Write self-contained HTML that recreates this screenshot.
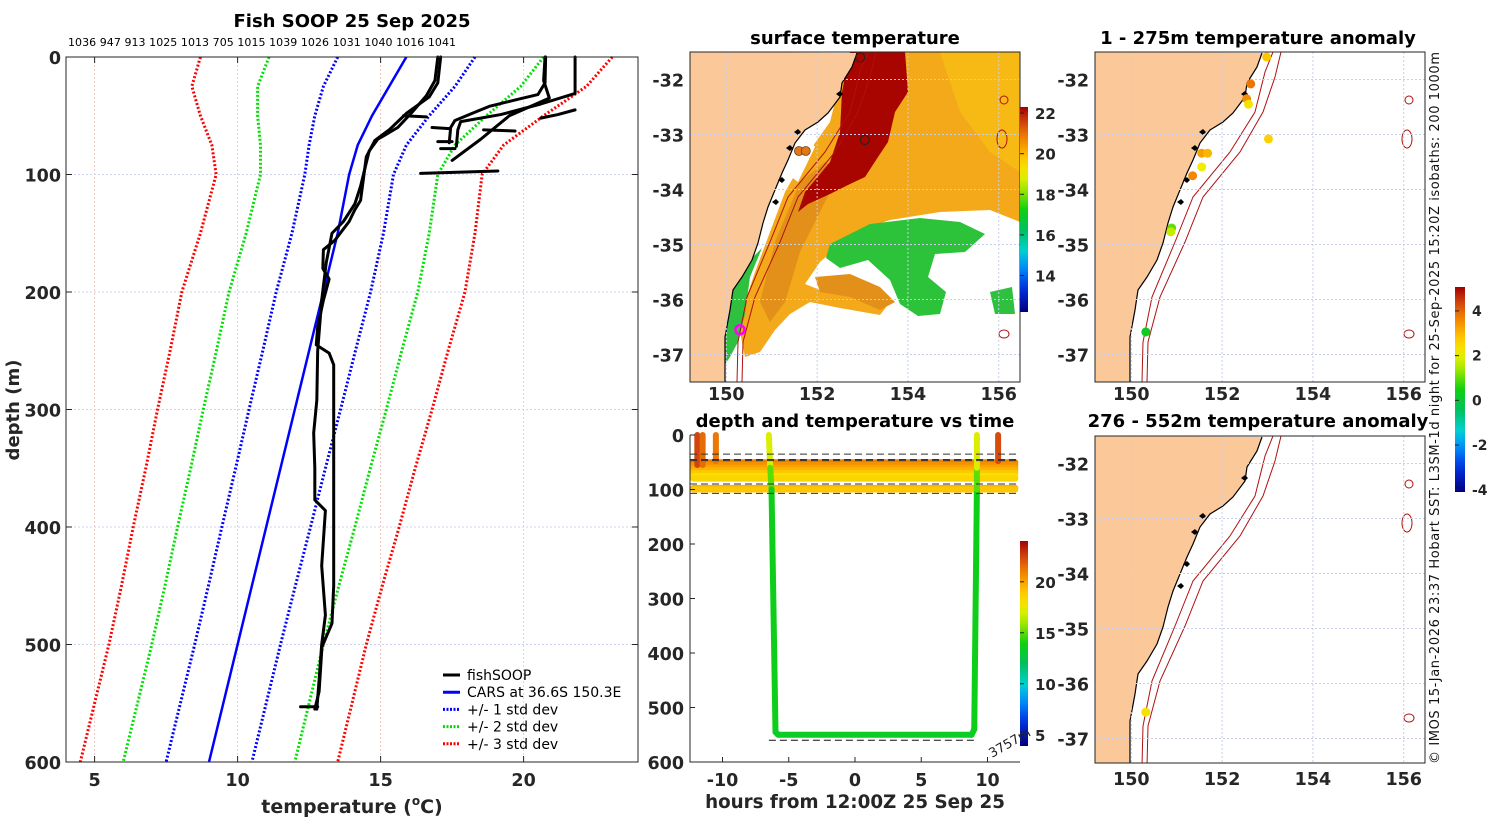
<!DOCTYPE html>
<html><head><meta charset="utf-8"><title>Fish SOOP 25 Sep 2025</title>
<style>
html,body{margin:0;padding:0;background:#fff;}
svg{display:block;font-family:"DejaVu Sans","Liberation Sans",sans-serif;}
.tk{font-size:17.5px;font-weight:bold;fill:#262626;}
.ttl{font-size:18px;font-weight:bold;fill:#000;}
</style></head>
<body>
<svg id="fig" xmlns="http://www.w3.org/2000/svg" width="1500" height="820" viewBox="0 0 1500 820">
<rect width="1500" height="820" fill="#fff"/>
<text class="ttl" x="352" y="27" text-anchor="middle">Fish SOOP 25 Sep 2025</text>
<text x="68" y="46" font-size="11" fill="#000" textLength="388">1036 947 913 1025 1013 705 1015 1039 1026 1031 1040 1016 1041</text>
<text class="tk" x="352" y="813" text-anchor="middle" style="font-size:19px">temperature (<tspan font-size="12" dy="-8">o</tspan><tspan dy="8">C)</tspan></text>
<text class="tk" transform="translate(19,410) rotate(-90)" text-anchor="middle" style="font-size:18px">depth (m)</text>
<text class="ttl" x="855" y="44" text-anchor="middle">surface temperature</text>
<text class="ttl" x="1258" y="44" text-anchor="middle">1 - 275m temperature anomaly</text>
<text class="ttl" x="855" y="427" text-anchor="middle">depth and temperature vs time</text>
<text class="ttl" x="1258" y="427" text-anchor="middle">276 - 552m temperature anomaly</text>
<text class="tk" x="855" y="808" text-anchor="middle" style="font-size:18.3px">hours from 12:00Z 25 Sep 25</text>
<text transform="translate(1439,408) rotate(-90)" text-anchor="middle" font-size="13" fill="#111" textLength="712">© IMOS 15-Jan-2026 23:37 Hobart SST: L3SM-1d night for 25-Sep-2025 15:20Z isobaths: 200  1000m</text>
<g id="g"></g>
</svg>
<script>
// ---------- data ----------
const carsDepth=[0,25,50,75,100,150,200,250,300,350,400,450,500,550,600];
const carsMean=[15.9,15.3,14.7,14.2,13.9,13.5,13.0,12.5,12.0,11.5,11.0,10.5,10.0,9.5,9.0];
const carsStd=[2.4,2.3,2.0,1.7,1.55,1.6,1.65,1.62,1.6,1.57,1.55,1.52,1.5,1.5,1.5];
const fishT=[
[17.1,17.0,16.7,15.9,15.3,14.8,14.5,14.3,14.1,13.9,13.4,13.0,12.98,13.2,13.0,12.8,12.75,13.2,13.36,13.36,13.36,13.3,12.95,12.85,12.7],
[17.0,16.9,16.6,16.1,15.6,14.9,14.6,14.3,14.1,13.7,13.3,13.1,12.94,12.8,12.77,12.66,12.7,12.7,13.07,12.94,13.07,12.94,12.85,12.77],
[20.77,20.75,20.5,19.8,18.8,18.2,17.6,17.45,17.4],
[21.8,21.8,20.6,19.2,17.8,17.7,17.65],
[20.75,20.7,20.9,19.5,18.5,17.5],
[21.8,21.2,20.6],[15.8,16.6],[16.8,17.4],[18.6,19.7],[17.0,17.5],[17.1,17.6],[16.4,19.1],[12.2,12.8]];
const fishD=[
[0,22,34,48,62,71,85,122,130,140,156,164,180,189,207,230,245,252,262,350,450,482,502,540,555],
[0,20,33,47,60,70,80,110,125,140,150,175,207,250,292,320,350,377,386,433,475,500,530,555],
[0,22,32,36,42,48,54,60,73],
[0,31,40,49,55,62,76],
[0,20,35,50,70,88],
[45,49,52],[50,51],[60,61],[62,63],[72,72],[78,78],[99,97],[553,553]];
const tempTicks=[5,10,15,20];
const depthTicks=[0,100,200,300,400,500,600];
// depth-time panel
const trackHours=[[-6.5,-6.4,-6.3,-6.0,-5.8,8.8,9.0,9.2,9.2,9.2]];
const trackDepth=[[0,60,100,545,550,550,540,100,60,0]];
const trackTemp=[[18,16,14,13.4,13.4,13.4,13.4,14,16,18]];
const bandDepth=[50,55,60,65,70,75,80,97,100];
const bandTemp=[21,20.5,20,19.5,19,18,18.5,19.5,19];
const castHours=[-11.9,-11.5,-10.5,10.8];
const castDepthMax=[55,55,48,48];
const castTemp=[22.5,21.5,21.2,22.3];
const dashDepth=[35,45,47,90,107];
const hourTicks=[-10,-5,0,5,10];
// anomaly markers
const anomLon=[152.98,152.63,152.54,152.58,153.02,151.55,151.68,151.55,151.35,150.89,150.87,150.32];
const anomLat=[-31.59,-32.08,-32.35,-32.45,-33.08,-33.34,-33.34,-33.59,-33.75,-34.70,-34.77,-36.59];
const anomVal=[2.8,3.8,3.5,2.3,2.6,3.3,3.0,2.1,3.6,1.0,1.7,0.3];
const anom2Lon=[150.32];
const anom2Lat=[-36.52];
const anom2Val=[2.3];
const lonTicks=[150,152,154,156];
const latTicks=[-32,-33,-34,-35,-36,-37];

// ---------- helpers ----------
const NS='http://www.w3.org/2000/svg';
const G=document.getElementById('g');
function mk(tag,attrs,name,parent){
  const e=document.createElementNS(NS,tag);
  for(const k in attrs) e.setAttribute(k,attrs[k]);
  
  
  (parent||G).appendChild(e);
  return e;
}
function txt(x,y,s,name,cls,anchor,extra){
  const t=mk('text',Object.assign({x:x,y:y,'text-anchor':anchor||'middle'},cls?{class:cls}:{},extra||{}),name);
  t.textContent=s;return t;
}
const stops=[[0,[0,0,128]],[0.12,[0,48,224]],[0.22,[0,144,255]],[0.3,[0,208,208]],[0.4,[0,192,96]],[0.5,[16,208,16]],[0.6,[160,232,0]],[0.67,[240,240,0]],[0.75,[255,200,0]],[0.85,[240,128,0]],[0.93,[208,64,16]],[1,[160,0,0]]];
function cmap(f){
  f=Math.max(0,Math.min(1,f));
  for(let i=1;i<stops.length;i++){if(f<=stops[i][0]){const a=stops[i-1],b=stops[i];const u=(f-a[0])/(b[0]-a[0]);
    return 'rgb('+a[1].map((v,j)=>Math.round(v+(b[1][j]-v)*u)).join(',')+')';}}
  return 'rgb(160,0,0)';
}
function gradient(id){
  let defs=document.querySelector('defs');
  if(!defs){defs=mk('defs',{},'defs');}
  const lg=mk('linearGradient',{id:id,x1:0,y1:1,x2:0,y2:0},'colormap-gradient',defs);
  for(let i=0;i<=20;i++){mk('stop',{offset:i/20,'stop-color':cmap(i/20)},'gradient-stop',lg);}
}
gradient('jet');

// ---------- profile chart ----------
const PX0=66,PX1=638,PY0=57,PY1=762,TMIN=4,TMAX=24;
const px=t=>PX0+(t-TMIN)*(PX1-PX0)/(TMAX-TMIN);
const py=d=>PY0+d*(PY1-PY0)/600;
tempTicks.forEach(t=>{
  mk('line',{x1:px(t),y1:PY0,x2:px(t),y2:PY1,stroke:t%10===0?'#cdd4ee':'#f0c8c0','stroke-width':1,'stroke-dasharray':'2,2'},'x-gridline');
  mk('line',{x1:px(t),y1:PY1,x2:px(t),y2:PY1-6,stroke:'#262626'},'x-tick');
  mk('line',{x1:px(t),y1:PY0,x2:px(t),y2:PY0+6,stroke:'#262626'},'x-tick-top');
  txt(px(t),786,t,'x-tick-label','tk');
});
depthTicks.forEach(d=>{
  if(d>0&&d<600) mk('line',{x1:PX0,y1:py(d),x2:PX1,y2:py(d),stroke:'#cdd4ee','stroke-width':1,'stroke-dasharray':'2,2'},'y-gridline');
  mk('line',{x1:PX0,y1:py(d),x2:PX0+6,y2:py(d),stroke:'#262626'},'y-tick');
  mk('line',{x1:PX1,y1:py(d),x2:PX1-6,y2:py(d),stroke:'#262626'},'y-tick-right');
  txt(61,py(d)+7,d,'y-tick-label','tk','end');
});
const sdCol=['#0000ff','#00e000','#ff0000'];
[1,2,3].forEach(k=>{
  [-1,1].forEach(s=>{
    const pts=carsDepth.map((d,i)=>px(carsMean[i]+s*k*carsStd[i])+','+py(d)).join(' ');
    mk('polyline',{points:pts,fill:'none',stroke:sdCol[k-1],'stroke-width':3,'stroke-dasharray':'2,2'},'std-dev-'+k+(s<0?'-lower':'-upper'));
  });
});
mk('polyline',{points:carsDepth.map((d,i)=>px(carsMean[i])+','+py(d)).join(' '),fill:'none',stroke:'#0000ff','stroke-width':2.5},'cars-mean-line');
fishT.forEach((ts,j)=>{
  mk('polyline',{points:ts.map((t,i)=>px(t)+','+py(fishD[j][i])).join(' '),fill:'none',stroke:'#000','stroke-width':3,'stroke-linejoin':'round','stroke-linecap':'round'},'fishsoop-profile');
});
mk('rect',{x:PX0,y:PY0,width:PX1-PX0,height:PY1-PY0,fill:'none',stroke:'#262626','stroke-width':1},'profile-axes-frame');
const legItems=[['fishSOOP','#000',''],['CARS at 36.6S 150.3E','#0000ff',''],['+/- 1 std dev','#0000ff','2,1.5'],['+/- 2 std dev','#00e000','2,1.5'],['+/- 3 std dev','#ff0000','2,1.5']];
legItems.forEach((it,i)=>{
  const y=675+i*17.2;
  mk('line',{x1:443,y1:y,x2:460,y2:y,stroke:it[1],'stroke-width':3,'stroke-dasharray':it[2]||'none'},'legend-swatch');
  txt(467,y+5,it[0],'legend-entry',null,'start',{'font-size':14,fill:'#000'});
});

// ---------- maps ----------
const coast=[[167,1],[162,15],[152,31],[150,45],[138,61],[128,70],[115,78],[105,91],[98,108],[92,121],[85,138],[78,155],[73,171],[68,191],[62,208],[52,225],[43,238],[40,258],[35,285],[35,301],[35,330]];
const iso1=[[178,0],[170,20],[160,60],[135,100],[98,145],[80,190],[57,245],[48,290],[47,330]];
const iso2=[[186,0],[180,25],[168,60],[145,100],[108,145],[90,190],[65,245],[53,290],[52,330]];
function mapAxes(X0,Y0,H){
  const W=330;
  const mx=lon=>X0+(lon-149.2)*45.4, my=lat=>Y0+(-31.5-lat)*55;
  return {mx,my,W,H,X0,Y0};
}
function drawMapBase(m,name){
  const {X0,Y0,W,H}=m;
  const cp='clip-'+name;
  const cl=mk('clipPath',{id:cp},'map-clip',document.querySelector('defs'));
  mk('rect',{x:X0,y:Y0,width:W,height:H},'map-clip-rect',cl);
  return mk('g',{'clip-path':'url(#'+cp+')'},name+'-content');
}
function drawLand(m,grp){
  const {X0,Y0}=m;
  const pts=coast.map(p=>(X0+p[0])+','+(Y0+p[1]));
  mk('polygon',{points:[(X0)+','+Y0].concat(pts,[(X0)+','+(Y0+340)]).join(' '),fill:'#fbc999',stroke:'none'},'land',grp);
  mk('polyline',{points:pts.join(' '),fill:'none',stroke:'#000','stroke-width':1.2},'coastline',grp);
  [[100,96],[108,80],[92,128],[86,150],[150,42]].forEach(p=>mk('path',{d:'M'+(X0+p[0]-4)+','+(Y0+p[1])+' l4,-3 l3,3 l-3,3z',fill:'#000'},'estuary',grp));
  [iso1,iso2].forEach((iso,i)=>mk('polyline',{points:iso.map(p=>(X0+p[0])+','+(Y0+p[1])).join(' '),fill:'none',stroke:'#b01010','stroke-width':1},i?'isobath-1000m':'isobath-200m',grp));
  [[314,48,4,4],[312,87,5,9],[314,282,5,4]].forEach(p=>mk('ellipse',{cx:X0+p[0],cy:Y0+p[1],rx:p[2],ry:p[3],fill:'none',stroke:'#b01010','stroke-width':1},'seamount-contour',grp));
}
function drawMapGrid(m,grp,lonLabelY){
  lonTicks.forEach(l=>{
    mk('line',{x1:m.mx(l),y1:m.Y0,x2:m.mx(l),y2:m.Y0+m.H,stroke:'#c8cde8','stroke-dasharray':'2,2'},'lon-gridline',grp);
    txt(m.mx(l),lonLabelY,l,'lon-tick-label','tk');
  });
  latTicks.forEach(l=>{
    mk('line',{x1:m.X0,y1:m.my(l),x2:m.X0+m.W,y2:m.my(l),stroke:'#c8cde8','stroke-dasharray':'2,2'},'lat-gridline',grp);
    txt(m.X0-6,m.my(l)+7,l,'lat-tick-label','tk','end');
  });
}
function frame(m,name){mk('rect',{x:m.X0,y:m.Y0,width:m.W,height:m.H,fill:'none',stroke:'#262626'},name);}

// SST map
const m1=mapAxes(690,52,330);
const g1=drawMapBase(m1,'sst-map');
function relPoly(m,arr,fill,name,grp){mk('polygon',{points:arr.map(p=>(m.X0+p[0])+','+(m.Y0+p[1])).join(' '),fill:fill},name,grp);}
relPoly(m1,[[160,0],[330,0],[330,170],[300,158],[250,160],[200,168],[165,180],[130,210],[115,232],[135,240],[170,244],[200,250],[190,263],[150,256],[120,250],[100,262],[85,278],[70,300],[55,305],[50,280],[55,250],[65,220],[80,180],[95,140],[115,105],[140,70],[150,30]],'#f3a91a','sst-warm-region',g1);
relPoly(m1,[[250,0],[330,0],[330,120],[300,100],[270,60]],'#f7ba15','sst-east-region',g1);
relPoly(m1,[[85,190],[110,130],[135,110],[150,120],[130,160],[110,200],[95,250],[80,270],[70,250]],'#e2901a','sst-current-tongue',g1);
relPoly(m1,[[125,225],[160,222],[190,235],[205,250],[190,258],[160,245],[130,240]],'#e2901a','sst-eddy-arm',g1);
relPoly(m1,[[160,0],[215,0],[218,40],[205,60],[198,90],[188,105],[175,125],[160,132],[140,142],[118,152],[108,160],[115,140],[140,110],[150,80],[152,40]],'#a80400','sst-hot-core',g1);
relPoly(m1,[[98,85],[115,80],[125,95],[108,130],[95,120]],'#ffffff','sst-cloud-gap',g1);
relPoly(m1,[[140,192],[180,172],[230,166],[270,170],[295,182],[275,200],[245,202],[238,225],[256,240],[250,262],[228,264],[210,252],[200,228],[178,208],[150,216],[136,206]],'#2cc23a','sst-cool-patch',g1);
relPoly(m1,[[72,196],[60,225],[55,262],[48,290],[40,305],[30,320],[20,322],[28,295],[35,262],[45,232],[60,208]],'#30c040','sst-coastal-cool',g1);
relPoly(m1,[[25,295],[35,300],[30,322],[20,322]],'#20a8e0','sst-coastal-cold',g1);
relPoly(m1,[[300,240],[322,235],[325,262],[305,262]],'#30c040','sst-east-patch',g1);
drawLand(m1,g1);
drawMapGrid(m1,g1,400);
[[151.6,-33.3,'#e07818'],[151.75,-33.3,'#e07818']].forEach(p=>mk('circle',{cx:m1.mx(p[0]),cy:m1.my(p[1]),r:4.5,fill:p[2],stroke:'#704010','stroke-width':0.8},'sst-station-marker',g1));
[[152.95,-31.6],[153.05,-33.1]].forEach(p=>mk('circle',{cx:m1.mx(p[0]),cy:m1.my(p[1]),r:4.5,fill:'none',stroke:'#222','stroke-width':1},'sst-station-ring',g1));
mk('circle',{cx:m1.mx(150.3),cy:m1.my(-36.55),r:4.5,fill:'none',stroke:'#ff00ff','stroke-width':2.5},'current-position-marker',g1);
frame(m1,'sst-map-frame');
mk('rect',{x:1020,y:107,width:8,height:205,fill:'url(#jet)'},'sst-colorbar');
[22,20,18,16,14].forEach(v=>{const y=107+(22.3-v)*(205/10.1);mk('line',{x1:1020,y1:y,x2:1024,y2:y,stroke:'#222'},'sst-colorbar-tick');txt(1035,y+6,v,'sst-colorbar-label','tk','start',{style:'font-size:15px'});});

// anomaly maps
const acol=v=>cmap((v+4.1)/9.17);
function anomMap(Y0,H,lons,lats,vals,name){
  const m=mapAxes(1095,Y0,H);
  const g=drawMapBase(m,name);
  drawLand(m,g);
  drawMapGrid(m,g,Y0===52?400:785);
  lons.forEach((lo,i)=>{
    mk('circle',{cx:m.mx(lo),cy:m.my(lats[i]),r:4.5,fill:acol(vals[i])},'anomaly-marker',g);
  });
  frame(m,name+'-frame');
}
anomMap(52,330,anomLon,anomLat,anomVal,'anomaly-map-1');
anomMap(436,327,anom2Lon,anom2Lat,anom2Val,'anomaly-map-2');
mk('rect',{x:1455,y:287,width:10,height:205,fill:'url(#jet)'},'anomaly-colorbar');
[4,2,0,-2,-4].forEach(v=>{const y=287+(5.07-v)*(205/9.17);mk('line',{x1:1455,y1:y,x2:1459,y2:y,stroke:'#222'},'anomaly-colorbar-tick');txt(1472,y+5,v,'anomaly-colorbar-label','tk','start',{style:'font-size:14px'});});

// ---------- depth-time panel ----------
const HX0=690,HX1=1020,HY0=435,HY1=762;
const hx=h=>855+h*13.25, hy=d=>HY0+d*(HY1-HY0)/600;
const tcol=t=>cmap((t-3.9)/20.1);
bandDepth.forEach((d,i)=>mk('line',{x1:hx(-12.2),y1:hy(d),x2:hx(12.1),y2:hy(d),stroke:tcol(bandTemp[i]),'stroke-width':6,'stroke-linecap':'round'},'depth-band-track'));
trackHours.forEach((hs,j)=>{
  for(let i=1;i<hs.length;i++){
    mk('line',{x1:hx(hs[i-1]),y1:hy(trackDepth[j][i-1]),x2:hx(hs[i]),y2:hy(trackDepth[j][i]),stroke:tcol((trackTemp[j][i-1]+trackTemp[j][i])/2),'stroke-width':6,'stroke-linecap':'round'},'deep-tow-track');
  }
});
castHours.forEach((h,i)=>mk('line',{x1:hx(h),y1:hy(0),x2:hx(h),y2:hy(castDepthMax[i]),stroke:tcol(castTemp[i]),'stroke-width':6,'stroke-linecap':'round'},'shallow-cast'));
dashDepth.forEach(d=>mk('line',{x1:HX0,y1:hy(d),x2:HX1,y2:hy(d),stroke:'#333','stroke-width':1,'stroke-dasharray':'7,4'},'max-depth-dash'));
mk('line',{x1:hx(-6.5),y1:hy(560),x2:hx(9.0),y2:hy(560),stroke:'#111','stroke-width':1,'stroke-dasharray':'7,4'},'deep-max-dash');
hourTicks.forEach(h=>{mk('line',{x1:hx(h),y1:HY1,x2:hx(h),y2:HY1-5,stroke:'#262626'},'hour-tick');txt(hx(h),786,h,'hour-tick-label','tk');});
depthTicks.forEach(d=>{mk('line',{x1:HX0,y1:hy(d),x2:HX0+5,y2:hy(d),stroke:'#262626'},'dt-depth-tick');txt(684,hy(d)+7,d,'dt-depth-label','tk','end');});
mk('polyline',{points:HX0+','+HY0+' '+HX0+','+HY1+' '+HX1+','+HY1,fill:'none',stroke:'#262626'},'depth-time-axes');
mk('rect',{x:1020,y:541,width:8,height:205,fill:'url(#jet)'},'depth-time-colorbar');
[20,15,10,5].forEach(v=>{const y=541+(24-v)*(205/20.1);mk('line',{x1:1020,y1:y,x2:1024,y2:y,stroke:'#222'},'dt-colorbar-tick');txt(1035,y+6,v,'dt-colorbar-label','tk','start',{style:'font-size:15px'});});
txt(992,758,'3757m','bottom-depth-label',null,'start',{'font-size':13,fill:'#222',transform:'rotate(-30 992 758)'});
</script>
</body></html>
